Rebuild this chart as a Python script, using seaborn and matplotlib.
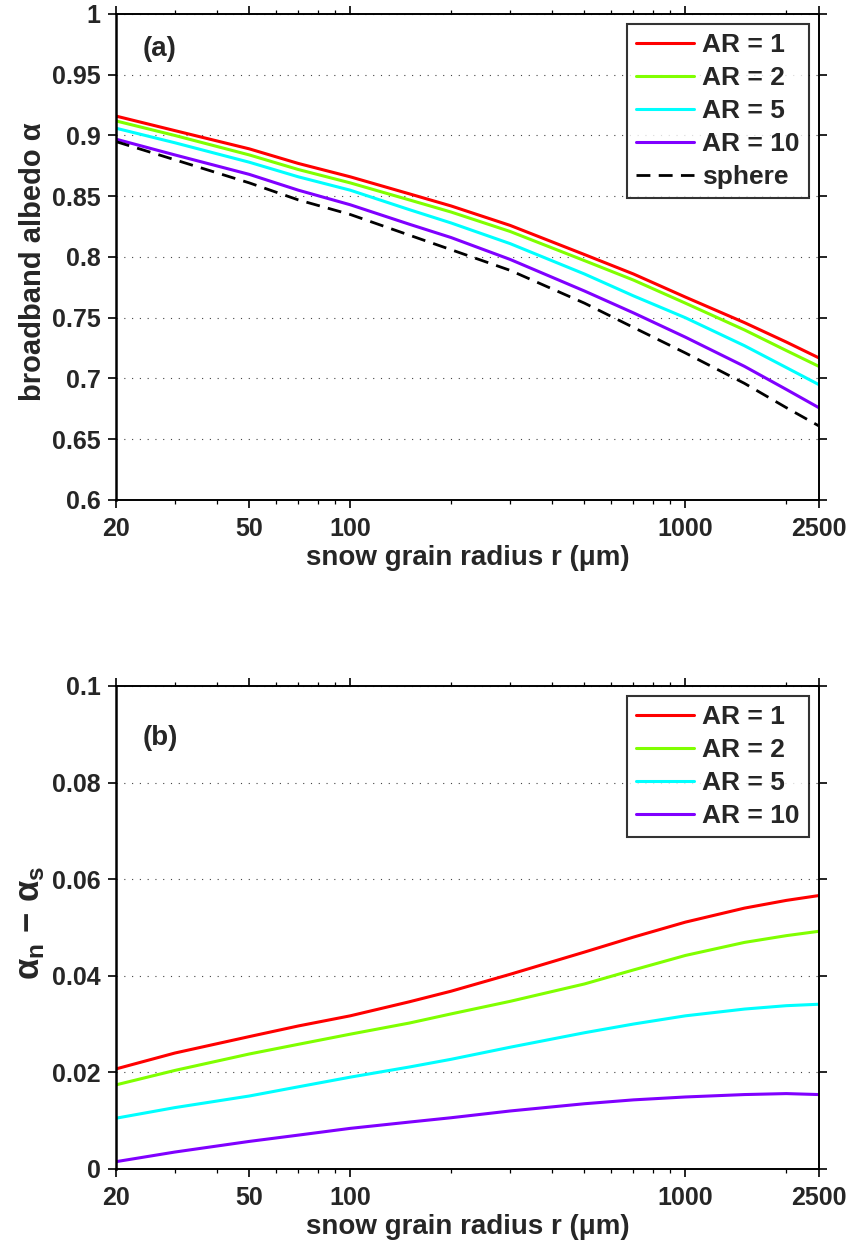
import numpy as np
import pandas as pd
import matplotlib
matplotlib.use("Agg")
import matplotlib.pyplot as plt
import matplotlib.ticker as mticker
import seaborn as sns

# ---- data ----
radius = [20, 30, 50, 70, 100, 150, 200, 300, 500, 700, 1000, 1500, 2000, 2500]

alb_ar1 = [0.916, 0.904, 0.889, 0.877, 0.866, 0.852, 0.842, 0.826, 0.802, 0.786, 0.767, 0.746, 0.730, 0.717]
alb_ar2 = [0.912, 0.900, 0.884, 0.872, 0.861, 0.847, 0.837, 0.821, 0.797, 0.781, 0.762, 0.740, 0.723, 0.710]
alb_ar5 = [0.906, 0.894, 0.878, 0.866, 0.855, 0.839, 0.828, 0.811, 0.786, 0.768, 0.750, 0.727, 0.709, 0.695]
alb_ar10 = [0.897, 0.884, 0.868, 0.855, 0.843, 0.827, 0.816, 0.798, 0.772, 0.754, 0.734, 0.710, 0.691, 0.676]
alb_sphere = [0.895, 0.880, 0.861, 0.847, 0.835, 0.818, 0.806, 0.789, 0.762, 0.742, 0.721, 0.696, 0.676, 0.661]

diff_ar1 = [0.0207, 0.0240, 0.0274, 0.0296, 0.0317, 0.0346, 0.0368, 0.0403, 0.0449, 0.0480, 0.0511, 0.0540, 0.0556, 0.0566]
diff_ar2 = [0.0174, 0.0204, 0.0238, 0.0258, 0.0279, 0.0302, 0.0321, 0.0347, 0.0383, 0.0412, 0.0442, 0.0469, 0.0483, 0.0492]
diff_ar5 = [0.0105, 0.0127, 0.0151, 0.0170, 0.0190, 0.0211, 0.0227, 0.0252, 0.0282, 0.0300, 0.0317, 0.0331, 0.0338, 0.0341]
diff_ar10 = [0.0015, 0.0035, 0.0057, 0.0070, 0.0084, 0.0097, 0.0106, 0.0120, 0.0135, 0.0143, 0.0149, 0.0154, 0.0156, 0.0154]

labels = ["AR = 1", "AR = 2", "AR = 5", "AR = 10"]
colors = ["#ff0000", "#80ff00", "#00ffff", "#8000ff"]
xticks = [20, 50, 100, 1000, 2500]
yticks_a = [0.6, 0.65, 0.7, 0.75, 0.8, 0.85, 0.9, 0.95, 1.0]
yticks_b = [0, 0.02, 0.04, 0.06, 0.08, 0.1]

# ---- style ----
sns.set_theme(style="white")
plt.rcParams["font.family"] = ["Liberation Sans", "DejaVu Sans"]
plt.rcParams["font.weight"] = "bold"
plt.rcParams["axes.labelweight"] = "bold"
plt.rcParams["mathtext.fontset"] = "custom"
plt.rcParams["mathtext.rm"] = "Liberation Sans:bold"
plt.rcParams["mathtext.bf"] = "Liberation Sans:bold"
plt.rcParams["mathtext.it"] = "Liberation Sans"

TICK_FS = 18
LAB_FS = 20
LEG_FS = 19

fig = plt.figure(figsize=(8.52, 12.49), dpi=100)
ax_a = fig.add_axes([0.136, 0.5997, 0.825, 0.3891])
ax_b = fig.add_axes([0.136, 0.0641, 0.825, 0.3867])


def style_axis(ax, yticks, ylim):
    ax.set_xscale("log")
    ax.set_xlim(20, 2500)
    ax.set_ylim(*ylim)
    ax.set_xticks(xticks)
    ax.xaxis.set_major_formatter(mticker.FixedFormatter([str(t) for t in xticks]))
    ax.xaxis.set_minor_locator(mticker.LogLocator(base=10, subs=np.arange(2, 10)))
    ax.xaxis.set_minor_formatter(mticker.NullFormatter())
    ax.set_yticks(yticks)
    ax.yaxis.set_major_formatter(mticker.FormatStrFormatter("%g"))
    ax.tick_params(axis="both", which="both", direction="out", top=True, right=True,
                   bottom=True, left=True, labelsize=TICK_FS, color="black")
    ax.tick_params(which="major", length=5.5, width=1.2)
    ax.tick_params(which="minor", length=3, width=0.9)
    ax.tick_params(axis="x", which="major", pad=6.5)
    ax.tick_params(axis="y", which="major", pad=5.5)
    for lab in ax.get_xticklabels() + ax.get_yticklabels():
        lab.set_fontweight("bold")
    ax.yaxis.grid(True, linestyle=(0, (1, 6)), color="#444444", linewidth=0.8)
    ax.xaxis.grid(False)
    for sp in ax.spines.values():
        sp.set_color("black")
        sp.set_linewidth(1.4)
    ax.spines["left"].set_linewidth(1.8)
    ax.set_xlabel("snow grain radius r (μm)", fontsize=LAB_FS, fontweight="bold", labelpad=3)


def style_legend(ax):
    leg = ax.legend(loc="upper right", fontsize=LEG_FS, frameon=True, fancybox=False,
                    edgecolor="black", handlelength=2.2, borderaxespad=0.38,
                    borderpad=0.35, labelspacing=0.34, handletextpad=0.3)
    leg.get_frame().set_linewidth(1.5)
    for t in leg.get_texts():
        t.set_fontweight("bold")


# ---- panel (a) ----
series_a = [alb_ar1, alb_ar2, alb_ar5, alb_ar10]
for vals, lab, col in zip(series_a, labels, colors):
    sns.lineplot(x=radius, y=vals, ax=ax_a, color=col, linewidth=2.2, label=lab)
sns.lineplot(x=radius, y=alb_sphere, ax=ax_a, color="black", linewidth=2.0, label="sphere")
ax_a.lines[-1].set_dashes((5, 3))
style_axis(ax_a, yticks_a, (0.6, 1.0))
ax_a.set_ylabel("broadband albedo α", fontsize=LAB_FS + 1, fontweight="bold")
ax_a.yaxis.set_label_coords(-0.098, 0.49)
ax_a.text(0.0626, 0.928, "(a)", transform=ax_a.transAxes, fontsize=LAB_FS, fontweight="bold",
          va="center", ha="center")
style_legend(ax_a)

# ---- panel (b) ----
series_b = [diff_ar1, diff_ar2, diff_ar5, diff_ar10]
for vals, lab, col in zip(series_b, labels, colors):
    sns.lineplot(x=radius, y=vals, ax=ax_b, color=col, linewidth=2.2, label=lab)
style_axis(ax_b, yticks_b, (0, 0.1))
ax_b.set_ylabel(r"$\alpha_{\mathbf{n}}\ \mathbf{-}\ \alpha_{\mathbf{s}}$", fontsize=25)
ax_b.yaxis.set_label_coords(-0.098, 0.51)
ax_b.text(0.0626, 0.892, "(b)", transform=ax_b.transAxes, fontsize=LAB_FS, fontweight="bold",
          va="center", ha="center")
style_legend(ax_b)

fig.savefig("out.png", dpi=100)
